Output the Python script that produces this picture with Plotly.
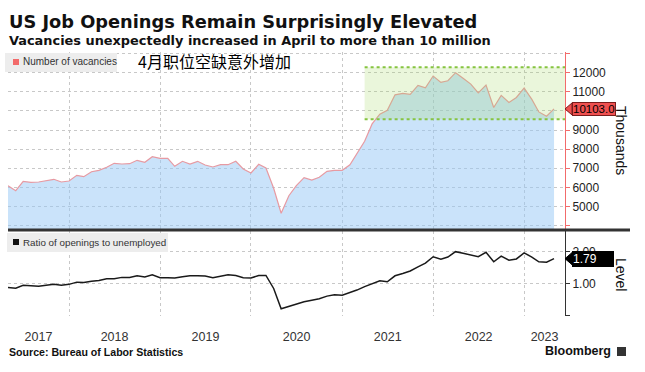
import pandas as pd
import plotly.graph_objects as go

# ---------------- data ----------------
months = pd.date_range("2017-05-01", periods=73, freq="MS")  # month-end of Apr 2017 .. Apr 2023

vacancies = [6084, 5822, 6314, 6262, 6277, 6345, 6419, 6277, 6330, 6628,
             6555, 6817, 6890, 7047, 7257, 7220, 7236, 7414, 7309, 7602,
             7518, 7518, 7099, 7361, 7220, 7361, 7168, 7063, 7183, 7183,
             7361, 6958, 6749, 7204, 7010, 5950, 4640, 5560, 6084, 6503,
             6382, 6524, 6838, 6890, 6890, 7183, 7780, 8408, 9320, 9830,
             10037, 10842, 10916, 10863, 11337, 11211, 11826, 11495, 11579, 12000,
             11705, 11405, 10947, 11353, 10179, 10811, 10442, 10705, 11195, 10600,
             9947, 9721, 10103]

ratio = [0.88, 0.86, 0.95, 0.93, 0.92, 0.95, 0.98, 0.95, 0.98, 1.05,
         1.04, 1.08, 1.10, 1.16, 1.16, 1.20, 1.20, 1.25, 1.21, 1.28,
         1.19, 1.19, 1.18, 1.22, 1.25, 1.25, 1.24, 1.19, 1.23, 1.28,
         1.26, 1.19, 1.18, 1.26, 1.26, 0.85, 0.21, 0.29, 0.37, 0.43,
         0.48, 0.53, 0.61, 0.65, 0.64, 0.72, 0.80, 0.91, 1.00, 1.09,
         1.06, 1.25, 1.32, 1.40, 1.53, 1.65, 1.85, 1.77, 1.84, 2.01,
         1.96, 1.91, 1.85, 1.99, 1.69, 1.87, 1.74, 1.78, 1.97, 1.84,
         1.69, 1.68, 1.79]

year_labels = ["2017", "2018", "2019", "2020", "2021", "2022", "2023"]
vac_ticks = [4000, 5000, 6000, 7000, 8000, 9000, 10000, 11000, 12000, 13000]
vac_ticktext = ["", "5000", "6000", "7000", "8000", "9000", "", "11000", "12000", ""]
ratio_ticks = [0, 1, 2]
ratio_ticktext = ["", "1.00", "2.00"]

band_start = pd.Timestamp("2021-04-01")
band_low, band_high = 9560, 12283

# ---------------- layout helpers ----------------
W, H = 645, 372
ML, MR, MT, MB = 8, 80, 52, 56
PW, PH = W - ML - MR, H - MT - MB


def px(x):
    return (x - ML) / PW


def py(y):
    return (H - MB - y) / PH


x_start = pd.Timestamp("2017-05-01")
x_end = pd.Timestamp("2023-06-14")
year_starts = [pd.Timestamp(f"{y}-01-01") for y in range(2018, 2024)]
bounds = [x_start] + year_starts + [x_end]
year_mid = [bounds[i] + (bounds[i + 1] - bounds[i]) / 2 for i in range(len(year_labels))]

FONT = "Liberation Sans, Arial, sans-serif"
HEAD = "DejaVu Sans, Verdana, sans-serif"
RED = "#f26b6b"

fig = go.Figure()

fig.add_trace(go.Scatter(
    x=months, y=vacancies, mode="lines", fill="tozeroy",
    fillcolor="rgba(150,200,245,0.5)",
    line=dict(color="#e79aa2", width=1.2),
    xaxis="x", yaxis="y", showlegend=False, hoverinfo="skip"))

fig.add_trace(go.Scatter(
    x=months, y=ratio, mode="lines",
    line=dict(color="#1a1a1a", width=1.5),
    xaxis="x2", yaxis="y2", showlegend=False, hoverinfo="skip"))

top_dom = [py(229), 1]
bot_dom = [0, py(231)]

grid = dict(gridcolor="#c8c8c8", griddash="dot", gridwidth=1)

fig.update_layout(
    width=W, height=H,
    margin=dict(l=ML, r=MR, t=MT, b=MB),
    paper_bgcolor="white", plot_bgcolor="white",
    font=dict(family=FONT, size=12, color="#222"),
    xaxis=dict(domain=[0, 1], range=[x_start, x_end], anchor="y",
               tickvals=year_starts, showticklabels=False, ticks="",
               showgrid=True, zeroline=False, showline=False, **grid),
    yaxis=dict(domain=top_dom, range=[3817, 13084], side="right", anchor="x",
               tickvals=vac_ticks, ticktext=vac_ticktext,
               showgrid=True, zeroline=False,
               showline=True, linecolor=RED, linewidth=1,
               ticks="outside", ticklen=4, tickcolor=RED,
               tickfont=dict(size=12, color="#222"), **grid),
    xaxis2=dict(domain=[0, 1], range=[x_start, x_end], anchor="y2",
                tickvals=year_mid, ticktext=year_labels, ticks="",
                showgrid=False, zeroline=False, showline=False,
                ticklabelstandoff=11,
                tickfont=dict(size=12.5, color="#333"),
                minor=dict(tickvals=year_starts, showgrid=True, **grid)),
    yaxis2=dict(domain=bot_dom, range=[-0.016, 2.66], side="right", anchor="x2",
                tickvals=ratio_ticks, ticktext=ratio_ticktext,
                showgrid=True, zeroline=False,
                showline=True, linecolor="#333", linewidth=1,
                ticks="outside", ticklen=4, tickcolor="#333",
                tickfont=dict(size=12, color="#222"), **grid),
)

shapes = []
# highlight band
shapes.append(dict(type="rect", xref="x", yref="y", x0=band_start, x1=x_end,
                   y0=band_low, y1=band_high, fillcolor="rgba(160,215,90,0.22)",
                   line=dict(width=0), layer="above"))
for yv in (band_low, band_high):
    shapes.append(dict(type="line", xref="x", yref="y", x0=band_start, x1=x_end,
                       y0=yv, y1=yv, line=dict(color="#86c440", width=2, dash="dot"),
                       layer="above"))
# separator
shapes.append(dict(type="line", xref="paper", yref="paper", x0=0, x1=px(630),
                   y0=py(230), y1=py(230), line=dict(color="#333", width=3)))
# legend boxes
shapes.append(dict(type="rect", xref="paper", yref="paper", x0=px(5), x1=px(117),
                   y0=py(72), y1=py(53), fillcolor="#ededed", line=dict(width=0), layer="above"))
shapes.append(dict(type="rect", xref="paper", yref="paper", x0=px(13), x1=px(19),
                   y0=py(65), y1=py(59), fillcolor=RED, line=dict(width=0), layer="above"))
shapes.append(dict(type="rect", xref="paper", yref="paper", x0=px(7), x1=px(168),
                   y0=py(252), y1=py(233), fillcolor="#ededed", line=dict(width=0), layer="above"))
shapes.append(dict(type="rect", xref="paper", yref="paper", x0=px(13), x1=px(19),
                   y0=py(245), y1=py(239), fillcolor="#111", line=dict(width=0), layer="above"))
# last value pointers
vy = vacancies[-1]
dv = 6 * (13084 - 3817) / ((1 - top_dom[0]) * PH)
shapes.append(dict(type="path", xref="paper", yref="y",
                   path=f"M {px(565)},{vy} L {px(572)},{vy + dv} L {px(572)},{vy - dv} Z",
                   fillcolor="#ef5050", line=dict(color="#7a1d1d", width=1)))
ry = ratio[-1]
dr = 6 * (2.66 + 0.016) / (bot_dom[1] * PH)
shapes.append(dict(type="path", xref="paper", yref="y2",
                   path=f"M {px(565)},{ry} L {px(572)},{ry + dr} L {px(572)},{ry - dr} Z",
                   fillcolor="#000", line=dict(color="#000", width=1)))
# Bloomberg icon
shapes.append(dict(type="rect", xref="paper", yref="paper", x0=px(617), x1=px(626),
                   y0=py(356), y1=py(347), fillcolor="#333", line=dict(width=0)))
fig.update_layout(shapes=shapes)

ann = []
ann.append(dict(text="<b>US Job Openings Remain Surprisingly Elevated</b>", x=px(7), y=py(21),
                xref="paper", yref="paper", xanchor="left", yanchor="middle", showarrow=False,
                font=dict(family=HEAD, size=17.8, color="#111")))
ann.append(dict(text="<b>Vacancies unexpectedly increased in April to more than 10 million</b>",
                x=px(7), y=py(40), xref="paper", yref="paper", xanchor="left", yanchor="middle",
                showarrow=False, font=dict(family=HEAD, size=12.9, color="#111")))
ann.append(dict(text="Number of vacancies", x=px(21), y=py(62), xref="paper", yref="paper",
                xanchor="left", yanchor="middle", showarrow=False,
                font=dict(family=FONT, size=10, color="#333")))
ann.append(dict(text="4月职位空缺意外增加", x=px(136), y=py(61), xref="paper", yref="paper",
                xanchor="left", yanchor="middle", showarrow=False,
                font=dict(family="Noto Sans CJK SC", size=16, color="#000")))
ann.append(dict(text="Ratio of openings to unemployed", x=px(21), y=py(242), xref="paper",
                yref="paper", xanchor="left", yanchor="middle", showarrow=False,
                font=dict(family=FONT, size=9.8, color="#333")))
ann.append(dict(text=f"{vacancies[-1]:.1f}", x=px(572), y=vy, xref="paper", yref="y",
                xanchor="left", yanchor="middle", showarrow=False, bgcolor="#ef5050",
                bordercolor="#7a1d1d", borderwidth=1, borderpad=0,
                font=dict(family=FONT, size=11.5, color="#000")))
ann.append(dict(text=f"{ratio[-1]:.2f}", x=px(572), y=ry, xref="paper", yref="y2",
                xanchor="left", yanchor="middle", showarrow=False, bgcolor="#000",
                bordercolor="#000", borderwidth=1, borderpad=0,
                font=dict(family=FONT, size=12, color="#fff"), width=40, align="left"))
ann.append(dict(text="Thousands", x=px(621), y=py(140), xref="paper", yref="paper",
                xanchor="center", yanchor="middle", showarrow=False, textangle=90,
                font=dict(family=FONT, size=14, color="#111")))
ann.append(dict(text="Level", x=px(621), y=py(274), xref="paper", yref="paper",
                xanchor="center", yanchor="middle", showarrow=False, textangle=90,
                font=dict(family=FONT, size=14, color="#111")))
ann.append(dict(text="<b>Source: Bureau of Labor Statistics</b>", x=px(7), y=py(352),
                xref="paper", yref="paper", xanchor="left", yanchor="middle", showarrow=False,
                font=dict(family=FONT, size=10.6, color="#111")))
ann.append(dict(text="<b>Bloomberg</b>", x=px(613), y=py(351), xref="paper", yref="paper",
                xanchor="right", yanchor="middle", showarrow=False,
                font=dict(family=FONT, size=12.5, color="#111")))
fig.update_layout(annotations=ann)

fig.write_html("out.html", config={"displayModeBar": False},
               post_script="document.body.style.margin='0';")
